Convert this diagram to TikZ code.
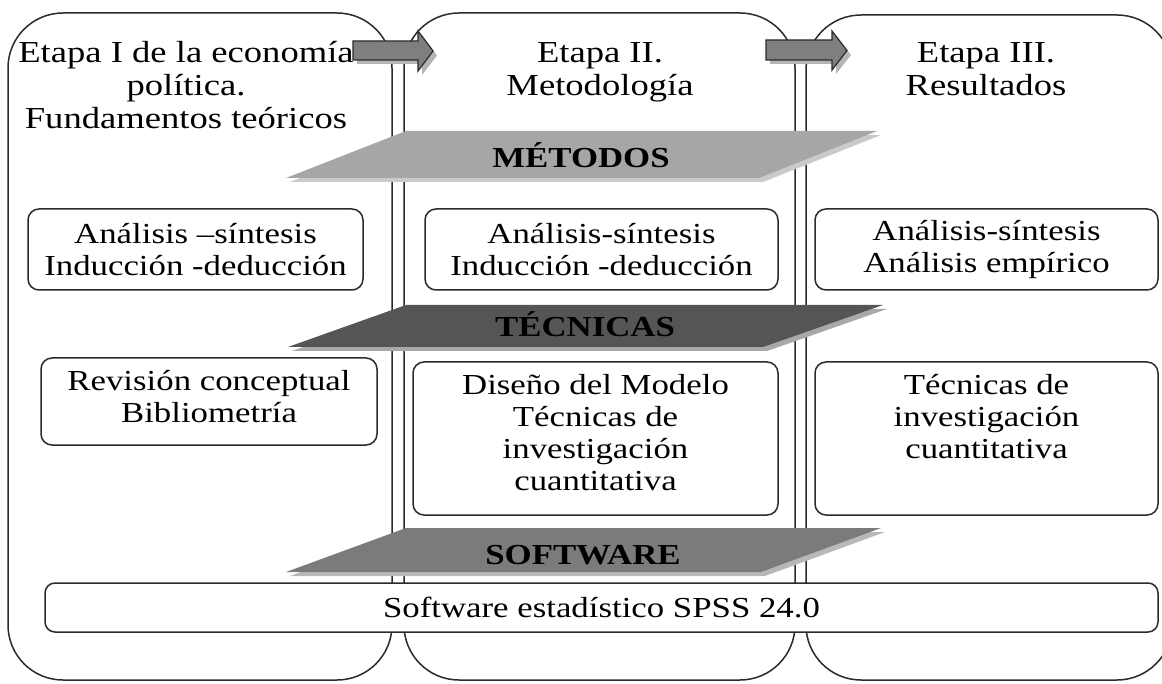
\documentclass[tikz,border=0pt]{standalone}
\usepackage{fontspec}
\setmainfont{Liberation Serif}[FakeStretch=1.2]
\newcommand\myrowfont{\fontsize{29}{32}\selectfont}
\newcommand\mytitlefont{\fontsize{30.5}{33}\selectfont}
\definecolor{linec}{HTML}{2B2B2B}
\definecolor{metF}{HTML}{A6A6A6}
\definecolor{metS}{HTML}{CACACA}
\definecolor{tecF}{HTML}{555555}
\definecolor{tecS}{HTML}{A8A8A8}
\definecolor{sofF}{HTML}{7B7B7B}
\definecolor{sofS}{HTML}{B8B8B8}
\definecolor{arrF}{HTML}{7F7F7F}
\definecolor{arrS}{HTML}{B5B5B5}
\begin{document}
\begin{tikzpicture}[x=1pt,y=-1pt,
  colbox/.style={draw=linec, line width=1.5pt, fill=white, rounded corners=55pt, inner sep=0pt},
  ibox/.style={draw=linec, line width=1.5pt, fill=white, rounded corners=11pt, inner sep=0pt, align=center, font=\myrowfont},
  ttl/.style={align=center, font=\mytitlefont, inner sep=0pt},
  rtxt/.style={align=center, font=\myrowfont, inner sep=0pt},
  blab/.style={font=\myrowfont\bfseries, inner sep=0pt, anchor=base},
  arrowbody/.style={draw=linec, line width=1.2pt, fill=arrF}]
\useasboundingbox (0,0) rectangle (1162,684);
\clip (0,0) rectangle (1162,684);
% columns
\node[colbox, minimum width=384pt, minimum height=667pt] (c1) at (200,346.5) {};
\node[colbox, minimum width=391pt, minimum height=667pt] (c2) at (599.5,346.5) {};
\node[colbox, minimum width=366pt, minimum height=665pt] (c3) at (989,347.5) {};
% titles
\node[ttl] (t1) at (186,85) {Etapa I de la economía\\política.\\Fundamentos teóricos};
\node[ttl] (t2) at (600,72) {Etapa II.\\Metodología};
\node[ttl] (t3) at (986,69) {Etapa III.\\Resultados};
% arrows
\fill[arrS] (357,45) -- (422,45) -- (422,35) -- (437,55.5) -- (422,75) -- (422,64) -- (357,64) -- cycle;
\draw[arrowbody] (353,41) -- (418,41) -- (418,31) -- (433,51) -- (418,71) -- (418,60) -- (353,60) -- cycle;
\fill[arrS] (770,44) -- (836,44) -- (836,36) -- (851,55) -- (836,74) -- (836,64) -- (770,64) -- cycle;
\draw[arrowbody] (766,40) -- (832,40) -- (832,31) -- (847,50.5) -- (832,70) -- (832,60) -- (766,60) -- cycle;
% METODOS bar
\fill[metS] (410,135) -- (881,135) -- (763,182) -- (290,182) -- cycle;
\fill[metF] (406,131) -- (877,131) -- (759,178) -- (286,178) -- cycle;
\node[blab] (m) at (581,168) {MÉTODOS};
% row 1
\node[ibox, minimum width=335pt, minimum height=81pt] (b11) at (195.5,249.5) {Análisis –síntesis\\Inducción -deducción};
\node[ibox, minimum width=353pt, minimum height=81pt] (b12) at (601.5,249.5) {Análisis-síntesis\\Inducción -deducción};
\node[ibox, minimum width=343pt, minimum height=81pt] (b13) at (986.5,249.5) {Análisis-síntesis\\Análisis empírico};
% TECNICAS bar
\fill[tecS] (410,309) -- (887,309) -- (767,351) -- (292,351) -- cycle;
\fill[tecF] (406,305) -- (883,305) -- (763,347) -- (288,347) -- cycle;
\node[blab] (t) at (585,337) {TÉCNICAS};
% row 2
\node[ibox, minimum width=336pt, minimum height=87pt] (b21) at (209,401.5) {};
\node[rtxt] (x21) at (209,397) {Revisión conceptual\\Bibliometría};
\node[ibox, minimum width=365pt, minimum height=153pt] (b22) at (595.5,438.5) {};
\node[rtxt, anchor=north] (x22) at (595.5,374) {Diseño del Modelo\\Técnicas de\\investigación\\cuantitativa};
\node[ibox, minimum width=343pt, minimum height=153pt] (b23) at (986.5,438.5) {};
\node[rtxt, anchor=north] (x23) at (986.5,374) {Técnicas de\\investigación\\cuantitativa};
% SOFTWARE bar
\fill[sofS] (410,532) -- (885,532) -- (765,576) -- (290,576) -- cycle;
\fill[sofF] (406,528) -- (881,528) -- (761,572) -- (286,572) -- cycle;
\node[blab] (s) at (583,564) {SOFTWARE};
% SPSS
\node[ibox, rounded corners=10pt, minimum width=1113pt, minimum height=49pt] (spss) at (601.5,607.5) {Software estadístico SPSS 24.0};
\end{tikzpicture}
\end{document}
